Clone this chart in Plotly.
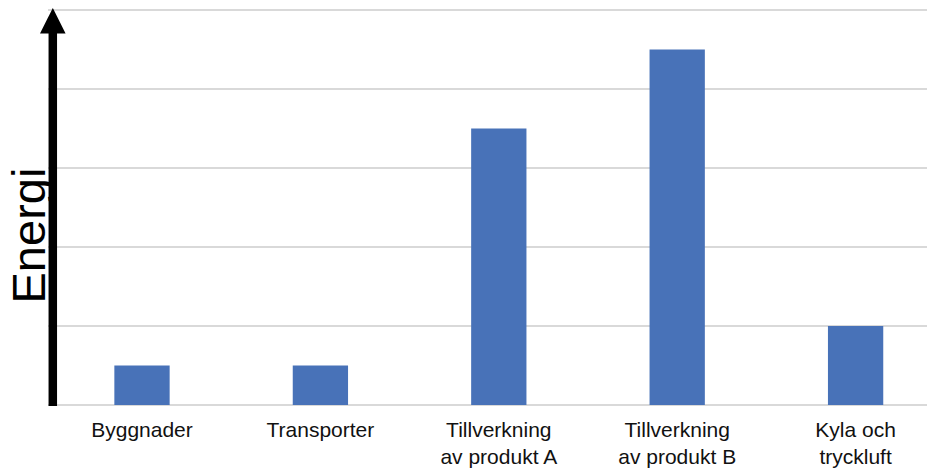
import plotly.graph_objects as go

categories = ["Byggnader", "Transporter", "Tillverkning<br>av produkt A",
              "Tillverkning<br>av produkt B", "Kyla och<br>tryckluft"]
values = [1, 1, 7, 9, 2]
y_title = "Energi"

# the page places the figure 8px from the top-left corner
OFF = 8
W, H = 935 - OFF, 472 - OFF
PLOT_LEFT, PLOT_TOP, PLOT_BOTTOM = 48, 8, 405  # page pixels
L = PLOT_LEFT - OFF
T = PLOT_TOP - OFF
B = H - (PLOT_BOTTOM - OFF)
R = 0
pw, ph = W - L - R, H - T - B

def px_x(p):
    return (p - PLOT_LEFT) / pw

def px_y(p):
    return (PLOT_BOTTOM - p) / ph

xpos = list(range(len(categories)))
spacing = 178.4
first_center = 142
x_lo = (PLOT_LEFT - first_center) / spacing
x_hi = (PLOT_LEFT + pw - first_center) / spacing

fig = go.Figure()
fig.add_trace(go.Bar(x=xpos, y=values, marker=dict(color="#4872B8", line=dict(width=0)),
                     width=0.31))

fig.update_layout(
    width=W, height=H,
    margin=dict(l=L, r=R, t=T, b=B, pad=0),
    plot_bgcolor="white", paper_bgcolor="white",
    showlegend=False,
    font=dict(family="Liberation Sans, Arial, sans-serif", color="#000000"),
    xaxis=dict(range=[x_lo, x_hi], tickmode="array", tickvals=xpos, ticktext=categories,
               showgrid=False, zeroline=False, showline=False, ticks="",
               ticklabelstandoff=10, automargin=False,
               tickfont=dict(size=21, color="#111111")),
    yaxis=dict(range=[0, 10.05], dtick=2, showticklabels=False, ticks="",
               showgrid=True, gridcolor="#d9d9d9", gridwidth=1.5, automargin=False,
               zeroline=True, zerolinecolor="#d9d9d9", zerolinewidth=2, showline=False),
)

# arrow shaft
cx = 52.8
fig.add_shape(type="line", xref="paper", yref="paper",
              x0=px_x(cx), x1=px_x(cx), y0=px_y(406), y1=px_y(30),
              line=dict(color="black", width=8.5))
# arrow head
fig.add_shape(type="path", xref="paper", yref="paper",
              path=f"M {px_x(40)} {px_y(33.5)} L {px_x(65.6)} {px_y(33.5)} L {px_x(cx)} {px_y(8)} Z",
              fillcolor="black", line=dict(width=0))

fig.add_annotation(text=y_title, xref="paper", yref="paper", x=px_x(28), y=px_y(235.5),
                   xanchor="center", yanchor="middle", textangle=-90, showarrow=False,
                   font=dict(size=47, color="black"))

fig.write_html("out.html")
